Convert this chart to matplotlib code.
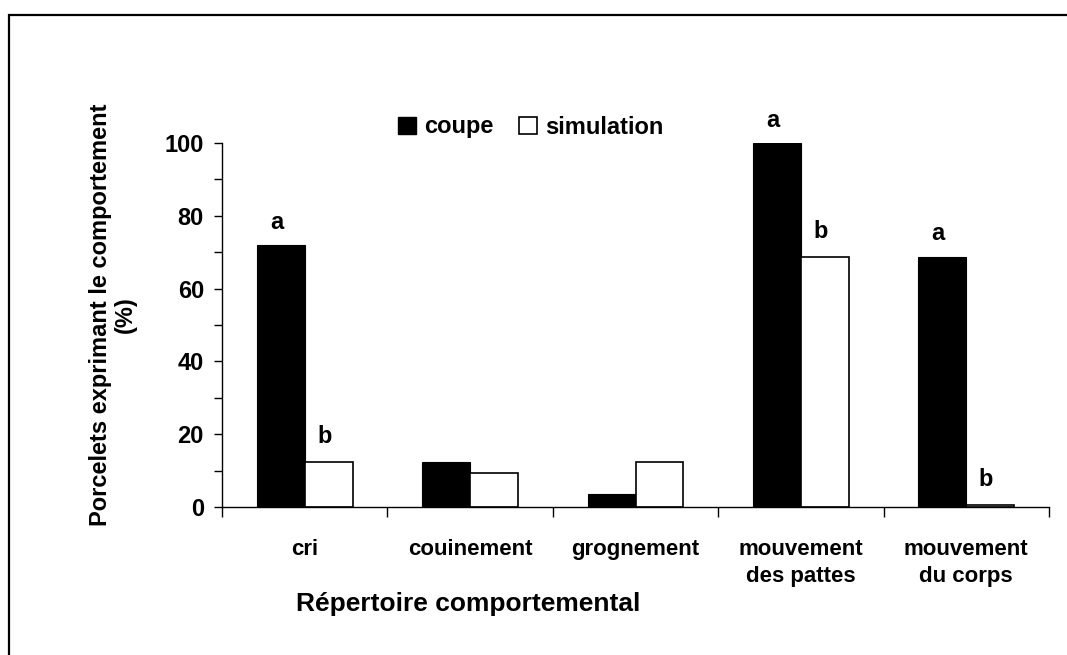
import matplotlib.pyplot as plt
import numpy as np
from matplotlib.patches import Patch, Rectangle

plt.rcParams['font.family'] = ['Liberation Sans', 'DejaVu Sans']
plt.rcParams['font.weight'] = 'bold'

categories = ['cri', 'couinement', 'grognement', 'mouvement\ndes pattes', 'mouvement\ndu corps']
coupe = [72, 12.5, 3.5, 100, 68.8]
simulation = [12.5, 9.4, 12.5, 68.8, 0.6]
letters_coupe = ['a', '', '', 'a', 'a']
letters_sim = ['b', '', '', 'b', 'b']

W, H = 1067, 655
fig = plt.figure(figsize=(W / 100, H / 100), dpi=100)

# outer frame (cut by the image on the right and bottom)
fig.patches.append(Rectangle((9 / W, -0.1), 1.2, 1 - 15 / H + 0.1, transform=fig.transFigure,
                             fill=False, edgecolor='black', linewidth=1.6))

ax = fig.add_axes([222 / W, 1 - 507 / H, 827 / W, 364 / H])
x = np.arange(len(categories))
w = 0.29
ax.bar(x - w / 2, coupe, w, color='black', edgecolor='black', linewidth=0.8)
ax.bar(x + w / 2, simulation, w, color='white', edgecolor='black', linewidth=1.2)

for i in range(len(categories)):
    if letters_coupe[i]:
        ax.annotate(letters_coupe[i], (x[i] - w / 2, coupe[i]), xytext=(-3, 8),
                    textcoords='offset points', ha='center', va='bottom',
                    fontsize=17, fontweight='bold', annotation_clip=False)
    if letters_sim[i]:
        ax.annotate(letters_sim[i], (x[i] + w / 2, simulation[i]), xytext=(-3, 10),
                    textcoords='offset points', ha='center', va='bottom',
                    fontsize=17, fontweight='bold', annotation_clip=False)

ax.set_xlim(-0.5, len(categories) - 0.5)
ax.set_ylim(0, 100)
ax.set_yticks(np.arange(0, 101, 20))
ax.set_yticks(np.arange(10, 100, 20), minor=True)
ax.tick_params(axis='y', which='both', length=6, width=1, pad=7, labelsize=17)

ax.set_xticks(np.arange(-0.5, len(categories), 1))
ax.set_xticklabels([])
ax.set_xticks(x, minor=True)
ax.set_xticklabels(categories, minor=True, fontsize=16, fontweight='bold', linespacing=1.4,
                   va='top')
ax.tick_params(axis='x', which='major', length=7, width=1)
ax.tick_params(axis='x', which='minor', length=0, pad=23)

for s in ['top', 'right']:
    ax.spines[s].set_visible(False)
for s in ['left', 'bottom']:
    ax.spines[s].set_linewidth(1)

fig.text(113 / W, 1 - 315 / H, 'Porcelets exprimant le comportement\n(%)', rotation=90,
         ha='center', va='center', multialignment='center', fontsize=17, fontweight='bold',
         linespacing=1.1)
fig.text(468 / W, 1 - 604 / H, 'Répertoire comportemental', ha='center', va='center',
         fontsize=19, fontweight='bold')

handles = [Patch(facecolor='black', edgecolor='black', label='coupe'),
           Patch(facecolor='white', edgecolor='black', linewidth=1.2, label='simulation')]
fig.legend(handles=handles, loc='center', bbox_to_anchor=(531 / W, 1 - 127 / H), ncol=2,
           frameon=False, fontsize=17, handlelength=0.75, handleheight=0.75,
           handletextpad=0.35, columnspacing=1.1)

fig.savefig('out.png', dpi=100)
